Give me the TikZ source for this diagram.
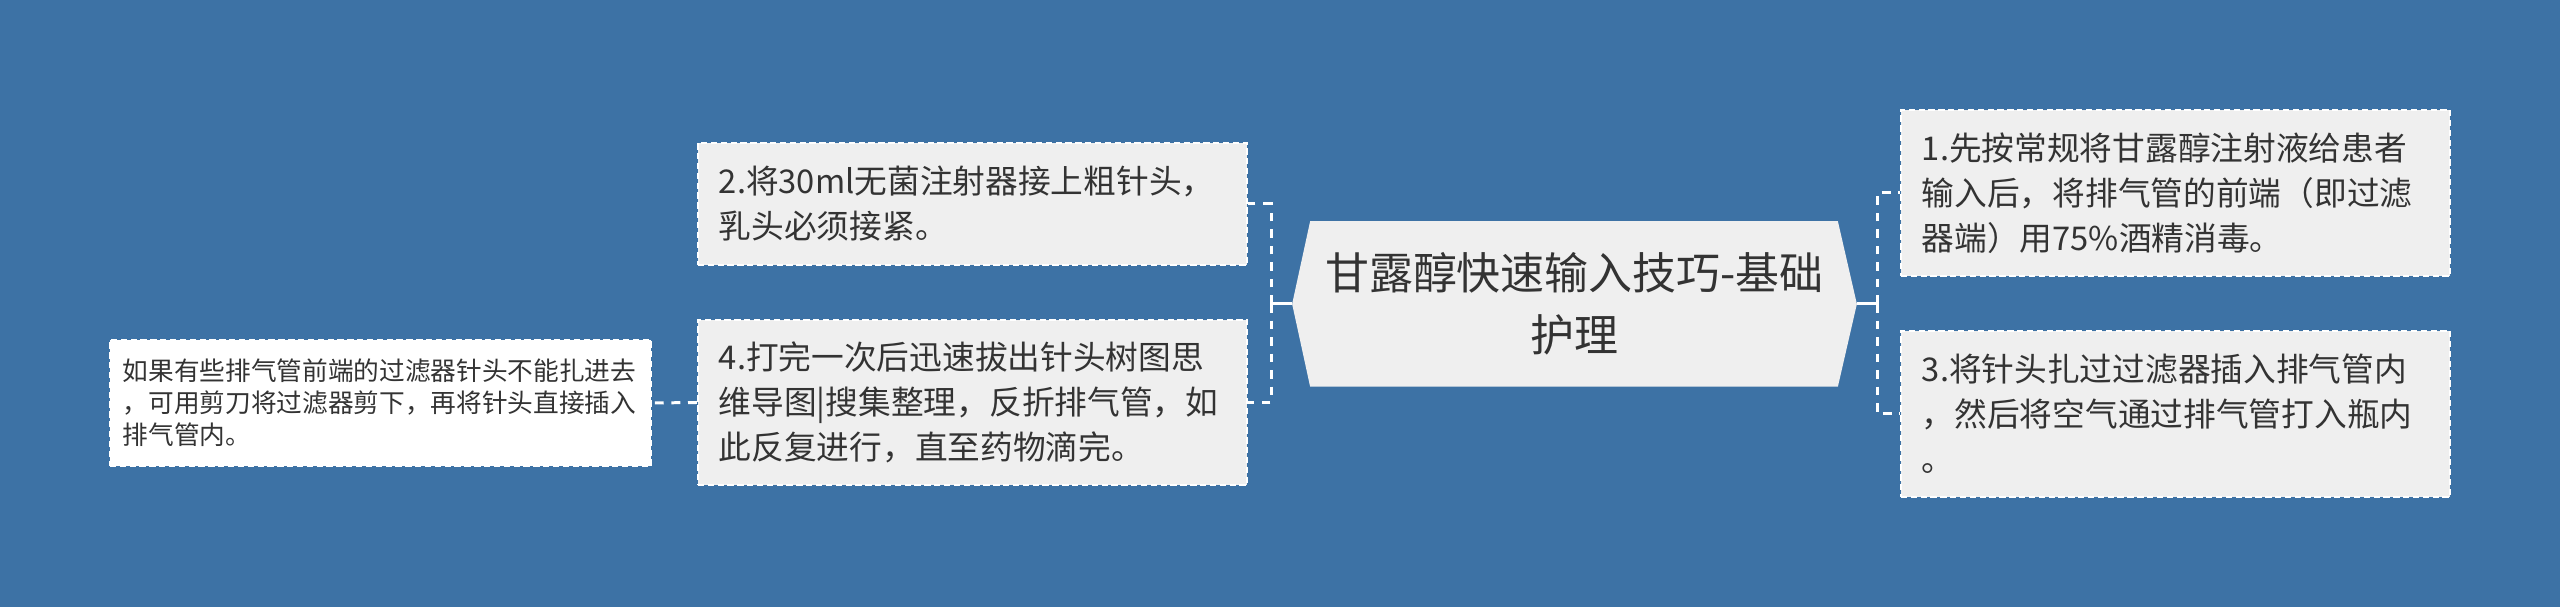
\documentclass[tikz,border=0pt]{standalone}
\usepackage{fontspec}
\setmainfont{Noto Sans CJK SC}
\usepackage{xcolor}
\usepackage{tikz}
\definecolor{bgblue}{RGB}{61,114,165}
\definecolor{boxgray}{RGB}{239,239,239}
\definecolor{textdark}{RGB}{51,51,51}
\usetikzlibrary{calc,backgrounds}

\begin{document}
\begin{tikzpicture}[x=0.01cm,y=-0.01cm,
    topic/.style={minimum width=5.63cm,minimum height=1.64cm,inner sep=0pt,align=center,
        text=textdark,font=\fontsize{12.5pt}{17.6pt}\selectfont},
    item/.style={draw=white,fill=boxgray,dash pattern=on 1.8pt off 1pt,line width=0.6pt,
        text width=5.07cm,inner xsep=0.21cm,inner ysep=0pt,align=left,
        text=textdark,font=\fontsize{9.3pt}{12.8pt}\selectfont},
    note/.style={item,fill=white,text width=5.15cm,inner xsep=0.13cm,
        font=\fontsize{7.3pt}{9.1pt}\selectfont},
    link/.style={white,line width=0.85pt},
    dashlink/.style={link,dash pattern=on 2.5pt off 2.2pt}]
    \useasboundingbox (0,0) rectangle (2560,607);

    % Central topic
    \node[topic] (root) at (1574.5,304) {甘露醇快速输入技巧-基础\\护理};

    % Steps on the right
    \node[item,minimum height=1.66cm] (s1) at (2175.5,193)
        {1.先按常规将甘露醇注射液给患者\\输入后，将排气管的前端（即过滤\\器端）用75\%酒精消毒。};
    \node[item,minimum height=1.66cm] (s3) at (2175.5,414)
        {3.将针头扎过过滤器插入排气管内\\，然后将空气通过排气管打入瓶内\\。};

    % Steps on the left
    \node[item,minimum height=1.22cm] (s2) at (972.5,204)
        {2.将30ml无菌注射器接上粗针头，\\乳头必须接紧。};
    \node[item,minimum height=1.65cm] (s4) at (972.5,402.5)
        {4.打完一次后迅速拔出针头树图思\\维导图|搜集整理，反折排气管，如\\此反复进行，直至药物滴完。};

    % Side note
    \node[note,minimum height=1.26cm] (tip) at (380.5,403)
        {如果有些排气管前端的过滤器针头不能扎进去\\，可用剪刀将过滤器剪下，再将针头直接插入\\排气管内。};

    % Background and hexagon
    \begin{scope}[on background layer]
        \fill[bgblue] (0,0) rectangle (2560,607);
        \fill[boxgray] (root.west) -- ($(root.north west)+(18,0)$) -- ($(root.north east)+(-19,0)$)
            -- (root.east) -- ($(root.south east)+(-19,0)$) -- ($(root.south west)+(18,0)$) -- cycle;
    \end{scope}

    % Connectors
    \coordinate (rjoin) at (1877,304);
    \coordinate (ljoin) at (1271,304);
    \draw[link] (root.east) -- (rjoin);
    \draw[link] (root.west) -- (ljoin);
    \foreach \n in {s1,s3} {
        \draw[dashlink] (rjoin) |- (\n.west);
    }
    \foreach \n in {s2,s4} {
        \draw[dashlink] (ljoin) |- (\n.east);
    }
    \draw[dashlink] (s4.west) -- (tip.east);
\end{tikzpicture}
\end{document}
